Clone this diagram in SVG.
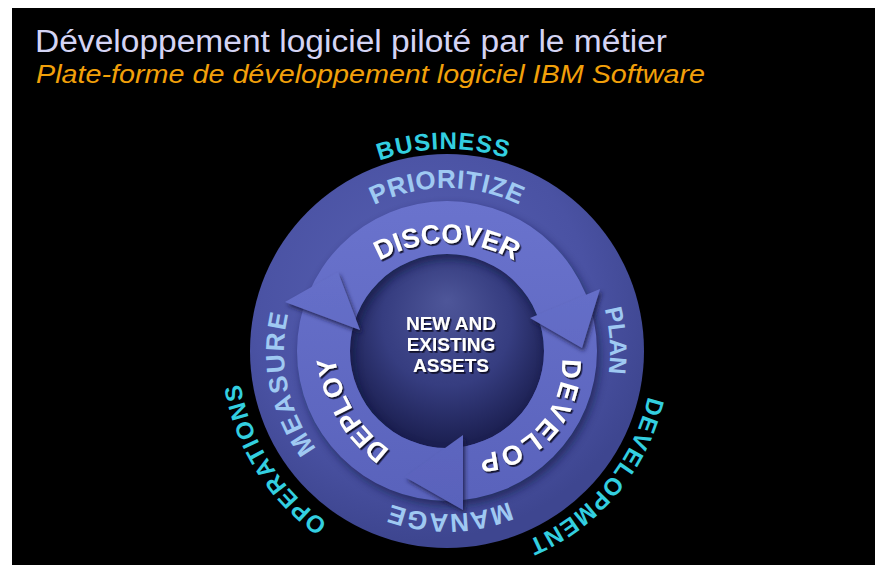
<svg xmlns="http://www.w3.org/2000/svg" width="877" height="565" viewBox="0 0 877 565">
<style>
.title{font-family:"Liberation Sans",Arial,sans-serif;font-size:31px;fill:#d4d4f4}
.sub{font-family:"Liberation Sans",Arial,sans-serif;font-size:26px;font-style:italic;fill:#f2a00a}
.cyan{font-family:"Liberation Sans",Arial,sans-serif;font-size:24px;font-weight:bold;fill:#33cfe0}
.ring{font-family:"Liberation Sans",Arial,sans-serif;font-size:26px;font-weight:bold;fill:#9fc9f2}
.arrow{font-family:"Liberation Sans",Arial,sans-serif;font-size:27px;font-weight:bold;fill:#ffffff}
.core{font-family:"Liberation Sans",Arial,sans-serif;font-size:19px;font-weight:bold;fill:#ffffff;text-anchor:middle}
.head{fill:url(#bandGrad)}
</style>
<defs>
<radialGradient id="diskGrad" gradientUnits="userSpaceOnUse" cx="420" cy="300" r="240">
<stop offset="0" stop-color="#5760b2"/>
<stop offset="0.7" stop-color="#4a52a3"/>
<stop offset="1" stop-color="#3e4690"/>
</radialGradient>
<radialGradient id="sphereGrad" gradientUnits="userSpaceOnUse" cx="447" cy="335" r="108" fx="447" fy="300">
<stop offset="0" stop-color="#4e5699"/>
<stop offset="0.6" stop-color="#363d80"/>
<stop offset="1" stop-color="#1c2052"/>
</radialGradient>
<linearGradient id="bandGrad" gradientUnits="userSpaceOnUse" x1="0" y1="200" x2="0" y2="510">
<stop offset="0" stop-color="#6a73cd"/>
<stop offset="1" stop-color="#5962bb"/>
</linearGradient>
<filter id="ts" x="-10%" y="-10%" width="130%" height="140%">
<feDropShadow dx="1.5" dy="1.8" stdDeviation="0.7" flood-color="#0a0c28" flood-opacity="0.95"/>
</filter>
<filter id="hs" x="-30%" y="-30%" width="160%" height="160%">
<feDropShadow dx="2" dy="3" stdDeviation="2" flood-color="#15183f" flood-opacity="0.8"/>
</filter>
<filter id="bs" x="-20%" y="-20%" width="140%" height="140%">
<feGaussianBlur stdDeviation="5"/>
</filter>
<path id="pBusiness" d="M247.49,319.40 A202,202 0 0 1 645.29,312.46"/>
<path id="pPrioritize" d="M286.48,322.70 A163,163 0 0 1 607.52,322.70"/>
<path id="pDiscover" d="M312.08,356.21 A137,137 0 0 1 581.92,356.21"/>
<path id="pPlan" d="M465.45,189.05 A163,163 0 0 1 485.05,509.50"/>
<path id="pDevelop" d="M542.75,309.72 A89,89 0 0 1 426.36,440.80"/>
<path id="pManage" d="M607.99,376.50 A163,163 0 0 1 286.99,382.10"/>
<path id="pDeploy" d="M517.63,467.39 A136,136 0 0 1 381.67,236.58"/>
<path id="pMeasure" d="M451.27,513.94 A163,163 0 0 1 387.26,199.34"/>
<path id="pOperations" d="M525.29,544.78 A209,209 0 0 1 307.15,195.68"/>
<path id="pDevelopment" d="M604.81,218.59 A206,206 0 0 1 344,529.40"/>
</defs>

<g id="background">
<rect x="0" y="0" width="877" height="565" fill="#ffffff"/>
<rect x="12" y="8" width="863" height="557" fill="#000000"/>
</g>

<g id="title">
<text class="title" x="35" y="52" textLength="632" lengthAdjust="spacingAndGlyphs">Développement logiciel piloté par le métier</text>
<text class="sub" x="36" y="83" textLength="669" lengthAdjust="spacingAndGlyphs">Plate-forme de développement logiciel IBM Software</text>
</g>

<g id="disk">
<circle cx="447" cy="351" r="197" fill="url(#diskGrad)"/>
<circle cx="447" cy="351" r="97" fill="url(#sphereGrad)"/>
</g>

<g id="connectors">
<path d="M297,351 a150,150 0 1 0 300,0 a150,150 0 1 0 -300,0 Z M350,351 a97,97 0 1 1 194,0 a97,97 0 1 1 -194,0 Z" fill="#10123a" fill-rule="evenodd" opacity="0.6" filter="url(#bs)" transform="translate(3,5)"/>
<path d="M297,351 a150,150 0 1 0 300,0 a150,150 0 1 0 -300,0 Z M350,351 a97,97 0 1 1 194,0 a97,97 0 1 1 -194,0 Z" fill="url(#bandGrad)" fill-rule="evenodd"/>
<polygon class="head" points="530,318 600,289 582,348" filter="url(#hs)"/>
<polygon class="head" points="463,435 463,510 405,477" filter="url(#hs)"/>
<polygon class="head" points="360,330 285,302 338,272" filter="url(#hs)"/>
</g>

<g id="node-business"><text class="cyan" letter-spacing="1"><textPath href="#pBusiness" startOffset="50%" text-anchor="middle">BUSINESS</textPath></text></g>
<g id="node-development"><text class="cyan" letter-spacing="1.2"><textPath href="#pDevelopment" startOffset="50%" text-anchor="middle">DEVELOPMENT</textPath></text></g>
<g id="node-operations"><text class="cyan" letter-spacing="1.3"><textPath href="#pOperations" startOffset="50%" text-anchor="middle">OPERATIONS</textPath></text></g>

<g id="node-prioritize"><text class="ring" letter-spacing="0.5"><textPath href="#pPrioritize" startOffset="50%" text-anchor="middle">PRIORITIZE</textPath></text></g>
<g id="node-plan"><text class="ring" style="font-size:24px"><textPath href="#pPlan" startOffset="50%" text-anchor="middle">PLAN</textPath></text></g>
<g id="node-manage"><text class="ring" letter-spacing="1"><textPath href="#pManage" startOffset="50%" text-anchor="middle">MANAGE</textPath></text></g>
<g id="node-measure"><text class="ring" letter-spacing="2"><textPath href="#pMeasure" startOffset="50%" text-anchor="middle">MEASURE</textPath></text></g>

<g id="node-discover"><text class="arrow" filter="url(#ts)"><textPath href="#pDiscover" startOffset="50%" text-anchor="middle">DISCOVER</textPath></text></g>
<g id="node-develop"><text class="arrow" letter-spacing="1.8" filter="url(#ts)"><textPath href="#pDevelop" startOffset="50%" text-anchor="middle">DEVELOP</textPath></text></g>
<g id="node-deploy"><text class="arrow" filter="url(#ts)"><textPath href="#pDeploy" startOffset="50%" text-anchor="middle">DEPLOY</textPath></text></g>

<g id="node-assets" filter="url(#ts)">
<text class="core" x="451" y="330">NEW AND</text>
<text class="core" x="451" y="351">EXISTING</text>
<text class="core" x="451" y="372">ASSETS</text>
</g>
</svg>
